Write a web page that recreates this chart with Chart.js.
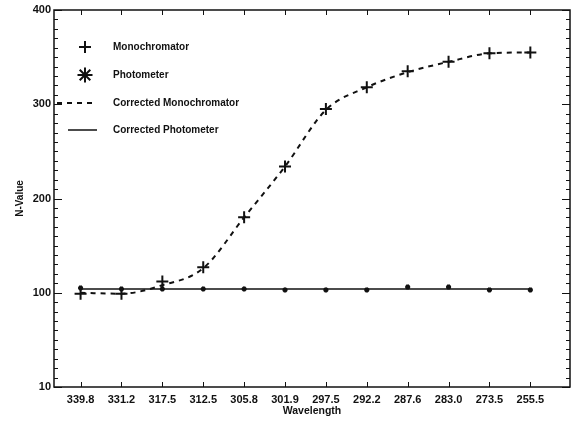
<!DOCTYPE html>
<html>
<head>
<meta charset="utf-8">
<script src="https://cdn.jsdelivr.net/npm/chart.js@4.4.1/dist/chart.umd.min.js"></script>
<style>
  html, body { margin: 0; padding: 0; background: #fff; }
  canvas { display: block; }
</style>
</head>
<body>
<canvas id="chart" width="578" height="421"></canvas>
<script>
// categories (wavelength, nm) in plotting order
const wavelengths = ['339.8', '331.2', '317.5', '312.5', '305.8', '301.9', '297.5', '292.2', '287.6', '283.0', '273.5', '255.5']

// series values
const monochromator = [99, 99, 112, 127, 180, 234, 295, 318, 335, 345, 354, 355]
const photometer = [105, 104, 104, 104, 104, 103, 103, 103, 106, 106, 103, 103]
const correctedMonochromator = [100, 99, 108, 126, 180, 234, 294, 318, 334, 345, 354, 355]
const correctedPhotometer = [104, 104, 104, 104, 104, 104, 104, 104, 104, 104, 104, 104]

// y tick labels as printed on the original
const yTickValues = [0, 100, 200, 300, 400]
const yTickLabels = ['10', '100', '200', '300', '400']

const FONT = '"Liberation Sans", Arial, sans-serif'
const INK = '#111'

const toPoints = (values) => values.map((v, i) => ({ x: i, y: v }))

// box frame with small inward ticks on all four sides
const frameTicks = {
  id: 'frameTicks',
  afterDatasetsDraw(chart) {
    const { ctx, chartArea: a, scales: { x, y } } = chart
    ctx.save()
    ctx.strokeStyle = INK
    ctx.lineWidth = 1.5
    ctx.strokeRect(a.left, a.top, a.right - a.left, a.bottom - a.top)
    ctx.lineWidth = 1
    ctx.beginPath()
    for (let v = 0; v <= 400; v += 10) {
      const py = Math.round(y.getPixelForValue(v)) + 0.5
      const len = v % 100 === 0 ? 8 : 4
      ctx.moveTo(a.left, py); ctx.lineTo(a.left + len, py)
      ctx.moveTo(a.right, py); ctx.lineTo(a.right - len, py)
    }
    wavelengths.forEach((w, i) => {
      const px = Math.round(x.getPixelForValue(i)) + 0.5
      ctx.moveTo(px, a.bottom); ctx.lineTo(px, a.bottom - 5)
      ctx.moveTo(px, a.top); ctx.lineTo(px, a.top + 5)
    })
    ctx.stroke()
    ctx.restore()
  }
}

// legend drawn inside the plot, upper left
const insideLegend = {
  id: 'insideLegend',
  afterDraw(chart) {
    const { ctx } = chart
    const rows = [47, 75, 103, 130]
    ctx.save()
    ctx.font = `bold 10px ${FONT}`
    ctx.textBaseline = 'middle'
    ctx.fillStyle = INK
    ctx.strokeStyle = INK
    chart.data.datasets.forEach((ds, i) => {
      const yy = rows[i]
      if (ds.showLine === false) {
        ctx.lineWidth = 2
        Chart.helpers.drawPoint(ctx, { pointStyle: ds.pointStyle, rotation: 0, radius: i === 0 ? 6 : 7.5, borderWidth: 2 }, 85, yy)
      } else {
        ctx.lineWidth = ds.borderWidth
        ctx.setLineDash(ds.borderDash || [])
        ctx.beginPath()
        ctx.moveTo(ds.borderDash ? 57 : 68, yy)
        ctx.lineTo(97, yy)
        ctx.stroke()
        ctx.setLineDash([])
      }
      ctx.fillText(ds.label, 113, yy)
    })
    ctx.restore()
  }
}

new Chart(document.getElementById('chart'), {
  type: 'scatter',
  data: {
    datasets: [
      {
        label: 'Monochromator',
        data: toPoints(monochromator),
        showLine: false,
        pointStyle: 'cross',
        pointRadius: 6,
        borderWidth: 2,
        borderColor: INK,
        backgroundColor: INK,
      },
      {
        label: 'Photometer',
        data: toPoints(photometer),
        showLine: false,
        pointStyle: 'star',
        pointRadius: 2.5,
        borderWidth: 2,
        borderColor: INK,
        backgroundColor: INK,
      },
      {
        label: 'Corrected Monochromator',
        data: toPoints(correctedMonochromator),
        showLine: true,
        pointRadius: 0,
        borderWidth: 2,
        borderDash: [5, 5],
        cubicInterpolationMode: 'monotone',
        borderColor: INK,
      },
      {
        label: 'Corrected Photometer',
        data: toPoints(correctedPhotometer),
        showLine: true,
        pointRadius: 0,
        borderWidth: 1.5,
        borderColor: INK,
      },
    ],
  },
  options: {
    responsive: false,
    animation: false,
    layout: { padding: { top: 10, right: 5, left: 0, bottom: 0 } },
    plugins: {
      legend: { display: false },
      tooltip: { enabled: false },
    },
    scales: {
      x: {
        type: 'linear',
        min: -0.65,
        max: 11.97,
        afterBuildTicks: (scale) => { scale.ticks = wavelengths.map((w, i) => ({ value: i })) },
        afterFit: (scale) => { scale.height = 34 },
        grid: { display: false, drawTicks: false },
        border: { display: false },
        ticks: {
          callback: (v) => wavelengths[v],
          color: INK,
          font: { family: FONT, size: 11, weight: 'bold' },
          padding: 6,
          maxRotation: 0,
          autoSkip: false,
        },
        title: {
          display: true,
          text: 'Wavelength',
          color: INK,
          font: { family: FONT, size: 10.5, weight: 'bold' },
          padding: { top: 0, bottom: 4 },
        },
      },
      y: {
        min: 0,
        max: 400,
        afterBuildTicks: (scale) => { scale.ticks = yTickValues.map(v => ({ value: v })) },
        afterFit: (scale) => { scale.width = 54 },
        grid: { display: false, drawTicks: false },
        border: { display: false },
        ticks: {
          callback: (v) => yTickLabels[yTickValues.indexOf(v)],
          color: INK,
          font: { family: FONT, size: 11, weight: 'bold' },
          padding: 3,
        },
        title: {
          display: true,
          text: 'N-Value',
          color: INK,
          font: { family: FONT, size: 10, weight: 'bold' },
          padding: { top: 14, bottom: 0 },
        },
      },
    },
  },
  plugins: [frameTicks, insideLegend],
})
</script>
</body>
</html>
